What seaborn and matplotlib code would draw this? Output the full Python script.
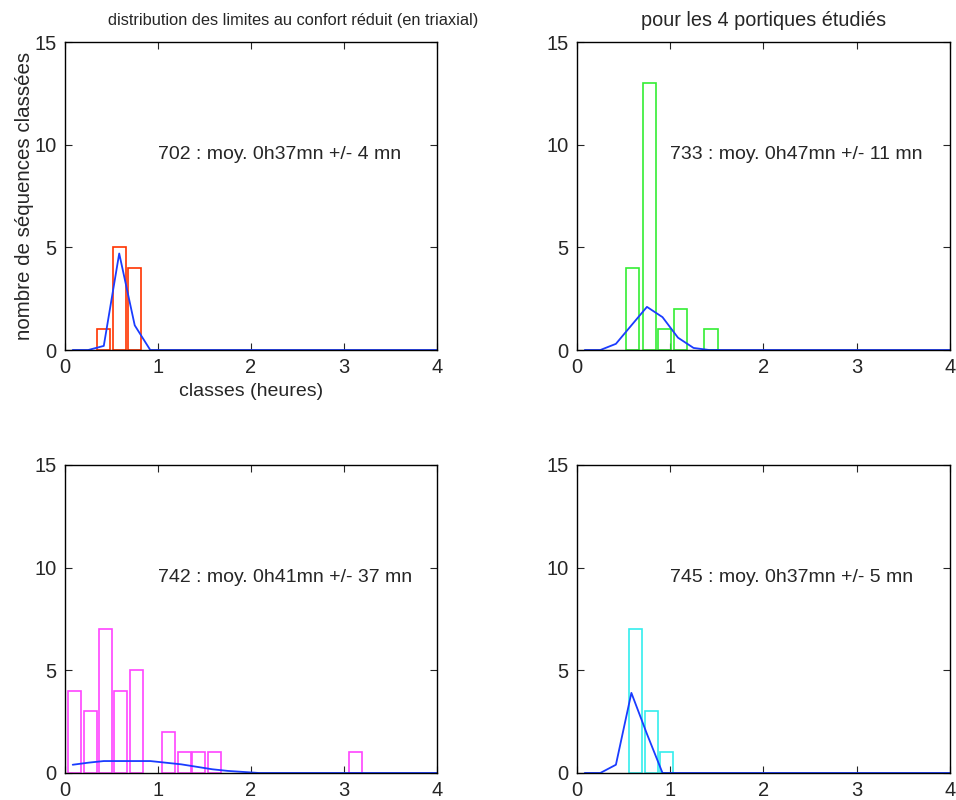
import matplotlib
matplotlib.use("Agg")
import matplotlib.pyplot as plt
import seaborn as sns

# bar classes (hours) and counts for each portique
x_702 = [0.416, 0.586, 0.745]
n_702 = [1, 5, 4]
x_733 = [0.60, 0.775, 0.936, 1.105, 1.437]
n_733 = [4, 13, 1, 2, 1]
x_742 = [0.104, 0.274, 0.435, 0.595, 0.77, 1.11, 1.285, 1.44, 1.61, 3.12]
n_742 = [4, 3, 7, 4, 5, 2, 1, 1, 1, 1]
x_745 = [0.625, 0.797, 0.956]
n_745 = [7, 3, 1]

# fitted curves (blue)
lx_702 = [0.083, 0.25, 0.417, 0.583, 0.75, 0.917, 4.0]
ly_702 = [0, 0, 0.2, 4.7, 1.2, 0, 0]
lx_733 = [0.083, 0.25, 0.417, 0.583, 0.75, 0.917, 1.083, 1.25, 1.417, 4.0]
ly_733 = [0, 0, 0.3, 1.2, 2.1, 1.6, 0.6, 0.1, 0, 0]
lx_742 = [0.083, 0.25, 0.417, 0.583, 0.75, 0.917, 1.083, 1.25, 1.417, 1.583, 1.75, 1.917, 2.083, 4.0]
ly_742 = [0.4, 0.5, 0.58, 0.58, 0.58, 0.58, 0.5, 0.42, 0.3, 0.18, 0.1, 0.05, 0, 0]
lx_745 = [0.083, 0.25, 0.417, 0.583, 0.75, 0.917, 4.0]
ly_745 = [0, 0, 0.4, 3.9, 1.9, 0, 0]

labels = ["702 : moy. 0h37mn +/- 4 mn", "733 : moy. 0h47mn +/- 11 mn",
          "742 : moy. 0h41mn +/- 37 mn", "745 : moy. 0h37mn +/- 5 mn"]
colors = ["#ff3300", "#33ee33", "#ff44ff", "#33eeee"]

sns.set_style("white")
plt.rcParams['font.family'] = ['Liberation Sans', 'DejaVu Sans']

fig = plt.figure(figsize=(9.56, 8), dpi=100)
rects = [[0.068, 0.5625, 0.389, 0.385], [0.6036, 0.5625, 0.390, 0.385],
         [0.068, 0.0338, 0.389, 0.385], [0.6036, 0.0338, 0.390, 0.385]]
data = [(x_702, n_702, lx_702, ly_702), (x_733, n_733, lx_733, ly_733),
        (x_742, n_742, lx_742, ly_742), (x_745, n_745, lx_745, ly_745)]

axes = []
for i, (r, (bx, bn, lx, ly)) in enumerate(zip(rects, data)):
    ax = fig.add_axes(r)
    ax.bar(bx, bn, width=0.14, facecolor='none', edgecolor=colors[i], linewidth=1.2)
    sns.lineplot(x=lx, y=ly, ax=ax, color='#1a3cff', linewidth=1.3)
    ax.set_xlim(0, 4)
    ax.set_ylim(0, 15)
    ax.set_xticks([0, 1, 2, 3, 4])
    ax.set_yticks([0, 5, 10, 15])
    ax.tick_params(direction='in', length=5, top=True, right=True, labelsize=14.5,
                   bottom=True, left=True, pad=6)
    for s in ax.spines.values():
        s.set_color('black')
        s.set_linewidth(1.0)
    ax.text(1.0, 9.5, labels[i], fontsize=14, va='center', ha='left')
    axes.append(ax)

# titles (left one is narrower in the original)
fig.text(293 / 956, 1 - 20 / 800, "distribution des limites au confort réduit (en triaxial)",
         fontsize=11.8, ha='center', va='center')
fig.text(764 / 956, 1 - 20 / 800, "pour les 4 portiques étudiés",
         fontsize=14.3, ha='center', va='center')
axes[0].set_ylabel("nombre de séquences classées", fontsize=14.8, labelpad=0)
axes[0].set_xlabel("classes (heures)", fontsize=14, labelpad=4)

fig.savefig("out.png", dpi=100)
